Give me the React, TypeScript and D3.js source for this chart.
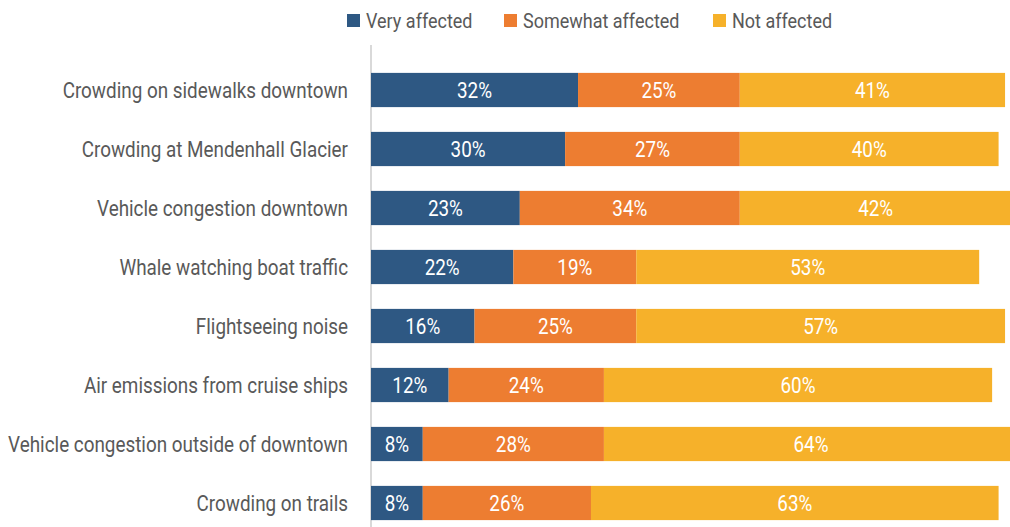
import React, { useRef, useEffect } from 'react';
import * as d3 from 'd3';

const categories = [
  'Crowding on sidewalks downtown',
  'Crowding at Mendenhall Glacier',
  'Vehicle congestion downtown',
  'Whale watching boat traffic',
  'Flightseeing noise',
  'Air emissions from cruise ships',
  'Vehicle congestion outside of downtown',
  'Crowding on trails',
];
const seriesNames = ['Very affected', 'Somewhat affected', 'Not affected'];
const veryAffected = [32, 30, 23, 22, 16, 12, 8, 8];
const somewhatAffected = [25, 27, 34, 19, 25, 24, 28, 26];
const notAffected = [41, 40, 42, 53, 57, 60, 64, 63];
const colors = ['#2E5883', '#ED7D31', '#F6B12A'];

const FONT = "'Roboto', 'DejaVu Sans', sans-serif";
const FONT_SIZE = 22;

const App = () => {
  const ref = useRef<SVGSVGElement | null>(null);

  useEffect(() => {
    if (!ref.current) return;
    const svg = d3.select(ref.current);
    svg.selectAll('*').remove();

    const width = 1010;
    const height = 527;

    // the reference uses a condensed face; measure and squeeze horizontally
    const probe = svg.append('text')
      .style('font-family', FONT)
      .style('font-size', `${FONT_SIZE}px`)
      .text(categories[6]);
    const probeLen = (probe.node() as SVGTextElement).getComputedTextLength() || 400;
    probe.remove();
    const sx = 340 / probeLen;

    const rows = categories.map((c, i) => ({
      category: c,
      'Very affected': veryAffected[i],
      'Somewhat affected': somewhatAffected[i],
      'Not affected': notAffected[i],
    }));

    const stacked = d3.stack<any>().keys(seriesNames)(rows);

    const x = d3.scaleLinear().domain([0, 100]).range([371, 1018]);
    const y = d3.scaleBand().domain(categories).range([60.5, 532.5]).paddingInner(0.42).paddingOuter(0.21);

    // axis line
    svg.append('line')
      .attr('x1', 371).attr('x2', 371)
      .attr('y1', 45).attr('y2', height)
      .attr('stroke', '#d9d9d9').attr('stroke-width', 2);

    const styleText = (sel: any, size = FONT_SIZE) => sel
      .style('font-family', FONT)
      .style('font-size', `${size}px`);

    // bars
    const groups = svg.selectAll('g.series')
      .data(stacked)
      .join('g')
      .attr('class', 'series')
      .attr('fill', (_d, i) => colors[i]);

    groups.selectAll('rect')
      .data((d) => d.map((v) => ({ v, key: d.key })))
      .join('rect')
      .attr('x', (d) => x(d.v[0]))
      .attr('y', (d) => y(d.v.data.category)!)
      .attr('width', (d) => x(d.v[1]) - x(d.v[0]))
      .attr('height', y.bandwidth());

    groups.selectAll('text')
      .data((d) => d.map((v) => ({ v, key: d.key })))
      .join('text')
      .attr('transform', (d) => `translate(${(x(d.v[0]) + x(d.v[1])) / 2},${y(d.v.data.category)! + y.bandwidth() / 2}) scale(${sx},1)`)
      .attr('dy', '0.36em')
      .attr('text-anchor', 'middle')
      .attr('fill', '#ffffff')
      .call(styleText)
      .text((d) => `${d.v[1] - d.v[0]}%`);

    // category labels
    svg.append('g')
      .selectAll('text')
      .data(categories)
      .join('text')
      .attr('transform', (d) => `translate(348,${y(d)! + y.bandwidth() / 2}) scale(${sx},1)`)
      .attr('dy', '0.36em')
      .attr('text-anchor', 'end')
      .attr('fill', '#595959')
      .call(styleText)
      .text((d) => d);

    // legend
    const legendX = [347, 504, 713];
    const legend = svg.append('g')
      .selectAll('g')
      .data(seriesNames)
      .join('g')
      .attr('transform', (_d, i) => `translate(${legendX[i]},14)`);
    legend.append('rect')
      .attr('width', 13).attr('height', 13)
      .attr('fill', (_d, i) => colors[i]);
    legend.append('text')
      .attr('transform', `translate(19,6.5) scale(${sx},1)`)
      .attr('dy', '0.36em')
      .attr('fill', '#595959')
      .call(styleText, 21)
      .text((d) => d);

    svg.attr('width', width).attr('height', height);
  }, []);

  return (
    <div style={{ position: 'absolute', left: 0, top: 0, width: 1010, height: 527, overflow: 'hidden', background: '#fff' }}>
      <svg ref={ref} width={1010} height={527} style={{ display: 'block' }} />
    </div>
  );
};

export default App;
